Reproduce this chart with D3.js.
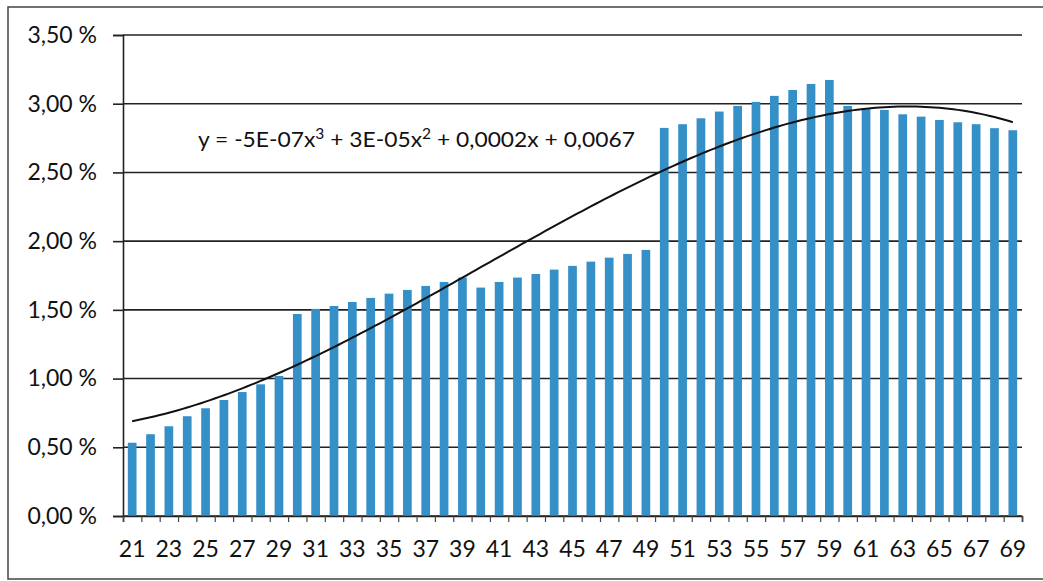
<!DOCTYPE html>
<html>
<head>
<meta charset="utf-8">
<script src="https://cdn.jsdelivr.net/npm/d3@7"></script>
<style>
  html, body { margin: 0; padding: 0; background: #fff; }
  svg { display: block; }
  text { font-family: Lato, "Open Sans", sans-serif; fill: #111; }
</style>
</head>
<body>
<svg id="chart" width="1043" height="581"></svg>
<script>
// ---- data ----
const ages = [21,22,23,24,25,26,27,28,29,30,31,32,33,34,35,36,37,38,39,40,41,42,43,44,45,
              46,47,48,49,50,51,52,53,54,55,56,57,58,59,60,61,62,63,64,65,66,67,68,69];
const rates = [0.00533,0.00595,0.00653,0.00726,0.00784,0.00844,0.00902,0.00958,0.01019,
               0.01470,0.01507,0.01528,0.01557,0.01587,0.01618,0.01645,0.01674,0.01703,0.01735,
               0.01662,0.01703,0.01735,0.01761,0.01793,0.01820,0.01851,0.01880,0.01907,0.01936,
               0.02824,0.02851,0.02894,0.02943,0.02984,0.03013,0.03057,0.03100,0.03144,0.03173,
               0.02984,0.02960,0.02955,0.02923,0.02906,0.02882,0.02865,0.02851,0.02822,0.02807];
const xTickLabels = [21,23,25,27,29,31,33,35,37,39,41,43,45,47,49,51,53,55,57,59,61,63,65,67,69];
const yTicks = [0,0.005,0.01,0.015,0.02,0.025,0.03,0.035];
const equationParts = ["y = -5E-07x", "3", " + 3E-05x", "2", " + 0,0002x + 0,0067"];

// ---- layout ----
const svg = d3.select("#chart");
const plotL = 123, plotR = 1022, plotT = 35, plotB = 516;
const labelFont = "Lato, 'Open Sans', sans-serif";

const locale = d3.formatLocale({decimal: ",", thousands: " ", grouping: [3], currency: ["", " €"], percent: " %"});
const fmt = locale.format(".2%");

const x = d3.scaleBand().domain(ages).range([plotL, plotR]).paddingInner(0.525).paddingOuter(0.2625);
const xb = d3.scaleLinear().domain([0, ages.length]).range([plotL, plotR]);
const y = d3.scaleLinear().domain([0, 0.035]).range([plotB, plotT]);

// frame
svg.append("rect").attr("x", 8).attr("y", 7).attr("width", 1060).attr("height", 572)
  .attr("fill", "none").attr("stroke", "#444").attr("stroke-width", 1.5);

// gridlines
svg.append("g").selectAll("line").data(yTicks).join("line")
  .attr("x1", plotL).attr("x2", plotR)
  .attr("y1", d => y(d)).attr("y2", d => y(d))
  .attr("stroke", "#222").attr("stroke-width", 1.6);

// bars
svg.append("g").selectAll("rect").data(ages).join("rect")
  .attr("x", (d) => x(d))
  .attr("width", x.bandwidth())
  .attr("y", (d, i) => y(rates[i]))
  .attr("height", (d, i) => plotB - y(rates[i]))
  .attr("fill", "#3690c8");

// y axis
const yAxis = svg.append("g").attr("transform", `translate(${plotL},0)`)
  .call(d3.axisLeft(y).tickValues(yTicks).tickFormat(fmt).tickSize(10).tickPadding(16));
yAxis.select(".domain").attr("stroke", "#222").attr("stroke-width", 1.6);
yAxis.selectAll(".tick line").attr("stroke", "#222").attr("stroke-width", 1.6);
yAxis.selectAll("text").attr("font-size", 23).attr("font-family", labelFont).attr("fill", "#111");

// x axis boundary ticks
const xAxisTicks = svg.append("g").attr("transform", `translate(0,${plotB})`)
  .call(d3.axisBottom(xb).tickValues(d3.range(ages.length + 1)).tickFormat("").tickSize(6));
xAxisTicks.select(".domain").attr("stroke", "#222").attr("stroke-width", 1.6);
xAxisTicks.selectAll(".tick line").attr("stroke", "#444").attr("stroke-width", 1.2);

// x labels
const xAxisLab = svg.append("g").attr("transform", `translate(0,${plotB})`)
  .call(d3.axisBottom(x).tickValues(xTickLabels).tickSize(0).tickPadding(25));
xAxisLab.select(".domain").remove();
xAxisLab.selectAll("text").attr("font-size", 23).attr("font-family", labelFont).attr("fill", "#111");

// cubic least-squares trendline (x = 1..n, as spreadsheet trendlines do)
function polyfit(xs, ys, deg) {
  const n = deg + 1;
  const A = Array.from({length: n}, () => new Array(n + 1).fill(0));
  for (let k = 0; k < xs.length; k++) {
    for (let i = 0; i < n; i++) {
      for (let j = 0; j < n; j++) A[i][j] += Math.pow(xs[k], i + j);
      A[i][n] += ys[k] * Math.pow(xs[k], i);
    }
  }
  for (let c = 0; c < n; c++) {
    let p = c;
    for (let r = c + 1; r < n; r++) if (Math.abs(A[r][c]) > Math.abs(A[p][c])) p = r;
    [A[c], A[p]] = [A[p], A[c]];
    for (let r = 0; r < n; r++) {
      if (r === c) continue;
      const f = A[r][c] / A[c][c];
      for (let j = c; j <= n; j++) A[r][j] -= f * A[c][j];
    }
  }
  return A.map((row, i) => row[n] / row[i]);
}
const idx = ages.map((d, i) => i + 1);
const coef = polyfit(idx, rates, 3);
const fitAt = t => coef[0] + coef[1] * t + coef[2] * t * t + coef[3] * t * t * t;
const trendPts = d3.range(1, ages.length + 0.001, 0.25).map(t => [xb(t - 0.5), y(fitAt(t))]);
svg.append("path").datum(trendPts)
  .attr("d", d3.line().curve(d3.curveLinear))
  .attr("fill", "none").attr("stroke", "#111").attr("stroke-width", 2);

// equation label
const eq = svg.append("text").attr("x", 198).attr("y", 147).attr("font-size", 22)
  .attr("textLength", 437).attr("lengthAdjust", "spacingAndGlyphs");
eq.append("tspan").text(equationParts[0]);
eq.append("tspan").attr("dy", -8).attr("font-size", 15).text(equationParts[1]);
eq.append("tspan").attr("dy", 8).text(equationParts[2]);
eq.append("tspan").attr("dy", -8).attr("font-size", 15).text(equationParts[3]);
eq.append("tspan").attr("dy", 8).text(equationParts[4]);
</script>
</body>
</html>
